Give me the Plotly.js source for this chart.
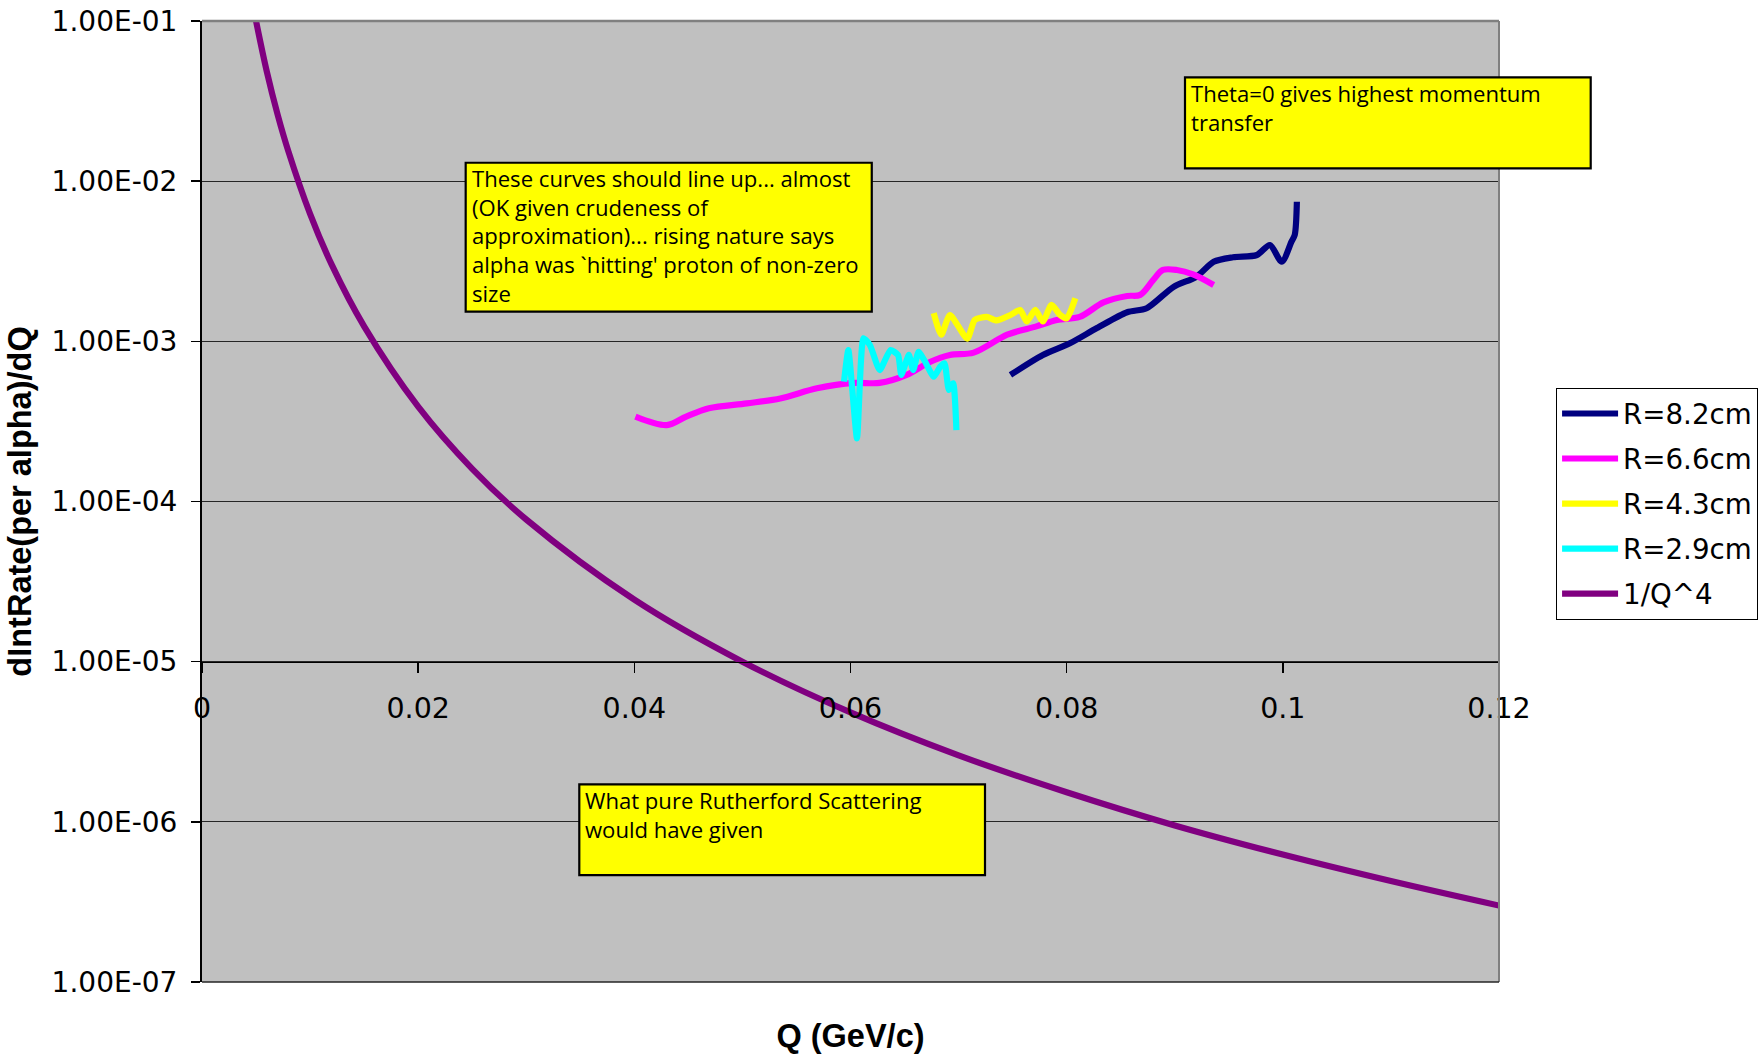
<!DOCTYPE html>
<html>
<head>
<meta charset="utf-8">
<script src="https://cdn.plot.ly/plotly-3.0.1.min.js"></script>
<style>html,body{margin:0;padding:0;background:#fff;}#chart{width:1763px;height:1056px;}</style>
</head>
<body>
<div id="chart"></div>
<script>
// ---- data ----
const q82 = [0.0748, 0.0778, 0.0803, 0.0828, 0.0856, 0.0874, 0.0899, 0.0920, 0.0936, 0.0954, 0.0976, 0.0988, 0.0999, 0.1008, 0.1011, 0.1013];
const y82 = [6.17e-4, 8.22e-4, 9.73e-4, 1.21e-3, 1.52e-3, 1.61e-3, 2.19e-3, 2.53e-3, 3.14e-3, 3.35e-3, 3.46e-3, 3.99e-3, 3.14e-3, 4.19e-3, 4.61e-3, 7.44e-3];

const q66 = [0.0401, 0.0430, 0.0448, 0.0469, 0.0504, 0.0535, 0.0569, 0.0603, 0.0627, 0.0652, 0.0674, 0.0692, 0.0714, 0.0745, 0.0772, 0.0791, 0.0812, 0.0834, 0.0856, 0.0868, 0.0880, 0.0889, 0.0902, 0.0917, 0.0936];
const y66 = [3.39e-4, 3.00e-4, 3.39e-4, 3.82e-4, 4.10e-4, 4.40e-4, 5.09e-4, 5.50e-4, 5.50e-4, 6.17e-4, 7.46e-4, 8.22e-4, 8.50e-4, 1.10e-3, 1.24e-3, 1.36e-3, 1.42e-3, 1.75e-3, 1.92e-3, 1.95e-3, 2.41e-3, 2.79e-3, 2.79e-3, 2.62e-3, 2.25e-3];

const q43 = [0.0677, 0.0684, 0.0692, 0.0708, 0.0715, 0.0726, 0.0735, 0.0748, 0.0757, 0.0763, 0.0771, 0.0778, 0.0786, 0.0794, 0.0800, 0.0808];
const y43 = [1.50e-3, 1.10e-3, 1.46e-3, 1.04e-3, 1.36e-3, 1.42e-3, 1.35e-3, 1.46e-3, 1.57e-3, 1.33e-3, 1.57e-3, 1.33e-3, 1.69e-3, 1.46e-3, 1.39e-3, 1.86e-3];

const q29 = [0.0594, 0.0598, 0.0606, 0.0612, 0.0618, 0.0627, 0.0637, 0.0644, 0.0647, 0.0654, 0.0658, 0.0663, 0.0669, 0.0677, 0.0683, 0.0687, 0.0691, 0.0695, 0.0698];
const y29 = [5.60e-4, 8.83e-4, 2.48e-4, 1.045e-3, 9.48e-4, 6.62e-4, 8.83e-4, 8.22e-4, 6.17e-4, 8.22e-4, 6.62e-4, 8.60e-4, 7.46e-4, 6.01e-4, 6.95e-4, 7.29e-4, 4.97e-4, 5.47e-4, 2.79e-4];

const qRuth = [0.005, 0.006, 0.007, 0.008, 0.010, 0.012, 0.015, 0.020, 0.025, 0.030, 0.040, 0.050, 0.060, 0.070, 0.080, 0.090, 0.100, 0.110, 0.120];
const yRuth = [1.0e-1, 4.82e-2, 2.60e-2, 1.53e-2, 6.25e-3, 3.01e-3, 1.24e-3, 3.91e-4, 1.60e-4, 7.72e-5, 2.44e-5, 1.0e-5, 4.82e-6, 2.60e-6, 1.53e-6, 9.5e-7, 6.25e-7, 4.27e-7, 3.0e-7];

const seriesNames = ['R=8.2cm', 'R=6.6cm', 'R=4.3cm', 'R=2.9cm', '1/Q^4'];
const seriesColors = ['#000080', '#FF00FF', '#FFFF00', '#00FFFF', '#800080'];

const xTickVals = [0, 0.02, 0.04, 0.06, 0.08, 0.1, 0.12];
const xTickText = ['0', '0.02', '0.04', '0.06', '0.08', '0.1', '0.12'];
const yTickVals = [1e-7, 1e-6, 1e-5, 1e-4, 1e-3, 1e-2, 1e-1];
const yTickText = ['1.00E-07', '1.00E-06', '1.00E-05', '1.00E-04', '1.00E-03', '1.00E-02', '1.00E-01'];

const noteTheta = 'Theta=0 gives highest momentum<br>transfer';
const noteCurves = 'These curves should line up... almost<br>(OK given crudeness of<br>approximation)... rising nature says<br>alpha was `hitting\' proton of non-zero<br>size';
const noteRuth = 'What pure Rutherford Scattering<br>would have given';

// ---- traces ----
const xs = [q82, q66, q43, q29, qRuth];
const ys = [y82, y66, y43, y29, yRuth];
const smooth = [0.8, 0.9, 0.6, 0.5, 1.0];
const traces = xs.map((x, i) => ({
  type: 'scatter', mode: 'lines', x: x, y: ys[i], name: seriesNames[i],
  legendgroup: 'g' + i,
  line: {color: seriesColors[i], width: 6.2, shape: 'spline', smoothing: smooth[i]},
  hoverinfo: 'x+y'
}));

const FONT = 'Liberation Sans, Arial, sans-serif';
const WIDE = 'DejaVu Sans, sans-serif';
const NOTE = 'Open Sans, Liberation Sans, sans-serif';

// note boxes (paper fractions of the plot area) and their texts
const boxes = [
  {x0: 0.7579, x1: 1.0707, y0: 0.8467, y1: 0.9414, text: noteTheta},
  {x0: 0.2033, x1: 0.5164, y0: 0.6975, y1: 0.8525, text: noteCurves},
  {x0: 0.2909, x1: 0.6037, y0: 0.1113, y1: 0.2057, text: noteRuth}
];
const plotW = 1297, plotH = 961;

const shapes = [
  {type: 'line', xref: 'paper', yref: 'paper', x0: 0, x1: 1, y0: 1, y1: 1, line: {color: '#808080', width: 2.5}, layer: 'above'},
  {type: 'line', xref: 'paper', yref: 'paper', x0: 1, x1: 1, y0: 0, y1: 1, line: {color: '#808080', width: 2}, layer: 'above'},
  {type: 'line', xref: 'paper', yref: 'paper', x0: 0, x1: 1, y0: 0, y1: 0, line: {color: '#262626', width: 1.5}, layer: 'above'}
].concat(boxes.map(b => ({type: 'rect', xref: 'paper', yref: 'paper', x0: b.x0, x1: b.x1, y0: b.y0, y1: b.y1,
  fillcolor: '#FFFF00', line: {color: '#000000', width: 2.2}, layer: 'above'})));

const annotations = boxes.map(b => ({showarrow: false, xref: 'paper', yref: 'paper', xanchor: 'left', yanchor: 'top',
  x: b.x0 + 5 / plotW, y: b.y1 + 0.5 / plotH, align: 'left', text: b.text, borderpad: 0,
  font: {family: NOTE, size: 22.1, color: '#000'}}));

const layout = {
  width: 1763, height: 1056,
  margin: {l: 202, r: 264, t: 21, b: 74, pad: 0, autoexpand: false},
  paper_bgcolor: '#FFFFFF', plot_bgcolor: '#C0C0C0',
  font: {family: FONT, color: '#000'},
  showlegend: true,
  legend: {x: 1.044, y: 0.6181, xanchor: 'left', yanchor: 'top', bgcolor: '#FFFFFF',
    bordercolor: '#000000', borderwidth: 1, font: {family: WIDE, size: 27.7, color: '#000'},
    tracegroupgap: 6, itemwidth: 56},
  xaxis: {range: [0, 0.12], anchor: 'free', position: 1/3, tickmode: 'array', tickvals: xTickVals, ticktext: xTickText,
    ticks: 'outside', ticklen: 10, tickwidth: 1.5, tickcolor: '#000', showgrid: false, zeroline: false,
    showline: true, linecolor: '#000', linewidth: 1.5, tickfont: {size: 28.5, family: WIDE},
    ticklabelstandoff: 11,
    title: {text: 'Q (GeV/c)', font: {size: 32.5, family: FONT, weight: 'bold'}, standoff: 300}},
  yaxis: {type: 'log', range: [-7, -1], tickmode: 'array', tickvals: yTickVals, ticktext: yTickText,
    ticks: 'outside', ticklen: 9, tickwidth: 1.5, tickcolor: '#000', showgrid: true, gridcolor: '#262626', gridwidth: 1.3,
    zeroline: false, showline: true, linecolor: '#000', linewidth: 2, tickfont: {size: 28, family: WIDE},
    ticklabelstandoff: 8,
    title: {text: 'dIntRate(per alpha)/dQ', font: {size: 32.5, family: FONT, weight: 'bold'}, standoff: 10}},
  shapes: shapes,
  annotations: annotations
};

Plotly.newPlot('chart', traces, layout, {displayModeBar: false, staticPlot: true});
</script>
</body>
</html>
